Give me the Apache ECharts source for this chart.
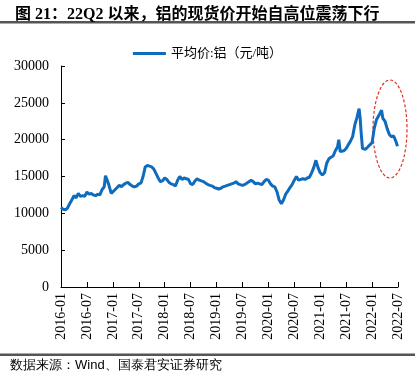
<!DOCTYPE html>
<html>
<head>
<meta charset="utf-8">
<script src="https://cdn.jsdelivr.net/npm/echarts@6/dist/echarts.min.js"></script>
<style>
html,body{margin:0;padding:0;background:#fff;}
#c{width:415px;height:386px;}
</style>
</head>
<body>
<div id="c"></div>
<script>
var titleText = '图 21：22Q2 以来，铝的现货价开始自高位震荡下行';
var seriesName = '平均价:铝（元/吨）';
var sourceText = '数据来源：Wind、国泰君安证券研究';
var yTicks = [0, 5000, 10000, 15000, 20000, 25000, 30000];

var dates = [
'2016-01-01','2016-01-16','2016-02-01','2016-02-16','2016-03-01','2016-03-16','2016-04-01','2016-04-16','2016-05-01','2016-05-16','2016-06-01','2016-06-16',
'2016-07-01','2016-07-16','2016-08-01','2016-08-16','2016-09-01','2016-09-16','2016-10-01','2016-10-16','2016-11-01','2016-11-10','2016-12-01','2016-12-20',
'2017-01-01','2017-01-16','2017-02-01','2017-02-16','2017-03-01','2017-03-16','2017-04-01','2017-04-16','2017-05-01','2017-05-16','2017-06-01','2017-06-16',
'2017-07-01','2017-07-16','2017-08-01','2017-08-16','2017-09-01','2017-09-16','2017-10-01','2017-10-16','2017-11-01','2017-11-16','2017-12-01','2017-12-16',
'2018-01-01','2018-01-16','2018-02-01','2018-02-16','2018-03-01','2018-03-16','2018-04-01','2018-04-16','2018-05-01','2018-05-16','2018-06-01','2018-06-16',
'2018-07-01','2018-07-16','2018-08-01','2018-08-16','2018-09-01','2018-09-16','2018-10-01','2018-10-16','2018-11-01','2018-11-16','2018-12-01','2018-12-16',
'2019-01-01','2019-01-16','2019-02-01','2019-02-16','2019-03-01','2019-03-16','2019-04-01','2019-04-16','2019-05-01','2019-05-16','2019-06-01','2019-06-16',
'2019-07-01','2019-07-16','2019-08-01','2019-08-16','2019-09-01','2019-09-16','2019-10-01','2019-10-16','2019-11-01','2019-11-16','2019-12-01','2019-12-16',
'2020-01-01','2020-01-16','2020-02-01','2020-02-16','2020-03-01','2020-03-16','2020-04-01','2020-04-16','2020-05-01','2020-05-16','2020-06-01','2020-06-16',
'2020-07-01','2020-07-16','2020-08-01','2020-08-16','2020-09-01','2020-09-16','2020-10-01','2020-10-16','2020-11-01','2020-11-16','2020-12-01','2020-12-16',
'2021-01-01','2021-01-16','2021-02-01','2021-02-16','2021-03-01','2021-03-16','2021-04-01','2021-04-16','2021-05-01','2021-05-10','2021-05-20','2021-06-01','2021-06-16',
'2021-07-01','2021-07-16','2021-08-01','2021-08-16','2021-09-01','2021-09-16','2021-10-01','2021-10-08','2021-10-16','2021-10-25','2021-11-01','2021-11-16','2021-12-01','2021-12-16',
'2022-01-01','2022-01-16','2022-02-01','2022-02-16','2022-03-07','2022-03-16','2022-04-01','2022-04-16','2022-05-01','2022-05-16','2022-06-01','2022-06-16','2022-06-28'
];
var prices = [
10800,10550,10500,10700,11300,11800,12400,12100,12700,12300,12400,12300,
12900,12600,12700,12500,12400,12600,12500,13200,13600,15100,14000,12700,
12900,13200,13500,13800,13600,13900,14100,14200,13900,13700,13600,13700,
14000,14100,15000,16300,16500,16400,16300,16000,15400,14800,14300,14400,
14800,14600,14200,14000,13900,13700,14500,15000,14600,14800,14700,14600,
14000,13900,14400,14700,14500,14400,14300,14100,13900,13800,13700,13500,
13400,13300,13400,13600,13700,13800,13900,14000,14100,14300,14000,13900,
13800,13900,14100,14300,14500,14300,14000,14100,14000,13900,14300,14600,
14500,14000,13700,13600,12900,11800,11300,11800,12600,13000,13500,13900,
14500,15000,14500,14600,14700,14600,14800,14900,15500,16200,17200,16200,
15500,15200,15500,16800,17400,17600,17800,18500,19000,20000,18400,18600,18500,
18800,19300,19800,20400,22000,23000,24200,23000,20800,18800,18600,18700,19000,19300,
19600,21500,22700,23200,24000,22900,22500,21500,20700,20400,20500,19800,19100
];

function monthIndex(s) {
  var p = s.split('-').map(Number);
  return (p[0] - 2016) * 12 + (p[1] - 1) + (p[2] - 1) / 30.5;
}
var seriesData = dates.map(function (d, i) { return [monthIndex(d), prices[i]]; });

var serif = '"Liberation Serif","Times New Roman","Noto Sans CJK SC",serif';
var cjk = '"Liberation Serif","Noto Sans CJK SC",sans-serif';

var chart = echarts.init(document.getElementById('c'), null, {renderer: 'canvas'});
chart.setOption({
  animation: false,
  backgroundColor: '#fff',
  title: {
    text: titleText,
    left: 10, top: 2,
    textStyle: {fontSize: 16, fontWeight: 'bold', color: '#000', fontFamily: cjk}
  },
  legend: {
    top: 42, left: 'center',
    itemWidth: 33, itemHeight: 3, itemGap: 4,
    icon: 'rect',
    textStyle: {fontSize: 13, color: '#000', fontFamily: cjk},
    data: [seriesName]
  },
  grid: {left: 61, right: 17, top: 66, bottom: 99, containLabel: false},
  xAxis: {
    type: 'value', min: 0, max: 78, interval: 6,
    axisLine: {lineStyle: {color: '#000', width: 1}},
    axisTick: {inside: true, length: 5, lineStyle: {color: '#000'}},
    splitLine: {show: false},
    axisLabel: {
      rotate: 90, margin: 6, fontSize: 14, color: '#000', fontFamily: serif,
      formatter: function (v) {
        var y = 2016 + Math.floor(v / 12), m = v % 12 + 1;
        return y + '-' + (m < 10 ? '0' + m : m);
      }
    }
  },
  yAxis: {
    type: 'value', min: yTicks[0], max: yTicks[yTicks.length - 1], interval: 5000,
    axisLine: {show: true, lineStyle: {color: '#000', width: 1}},
    axisTick: {show: true, inside: true, length: 4, lineStyle: {color: '#000'}},
    splitLine: {show: false},
    axisLabel: {margin: 12, fontSize: 14, color: '#000', fontFamily: serif,
      formatter: function (v) { return String(v); }}
  },
  series: [{
    name: seriesName, type: 'line', data: seriesData,
    showSymbol: false, symbol: 'none',
    lineStyle: {color: '#0f6cbd', width: 3},
    itemStyle: {color: '#0f6cbd'}
  }],
  graphic: [
    {type: 'rect', shape: {x: 0, y: 21, width: 415, height: 2.5}, style: {fill: '#555'}},
    {type: 'rect', shape: {x: 0, y: 353.5, width: 415, height: 2.5}, style: {fill: '#555'}},
    {type: 'ellipse', shape: {cx: 390, cy: 129, rx: 17, ry: 49},
     style: {fill: 'none', stroke: '#e0302a', lineWidth: 1.2, lineDash: [3, 2]}},
    {type: 'text', left: 10, top: 359,
     style: {text: sourceText, fontSize: 13, fill: '#000', font: '13px ' + cjk}}
  ]
});
</script>
</body>
</html>
